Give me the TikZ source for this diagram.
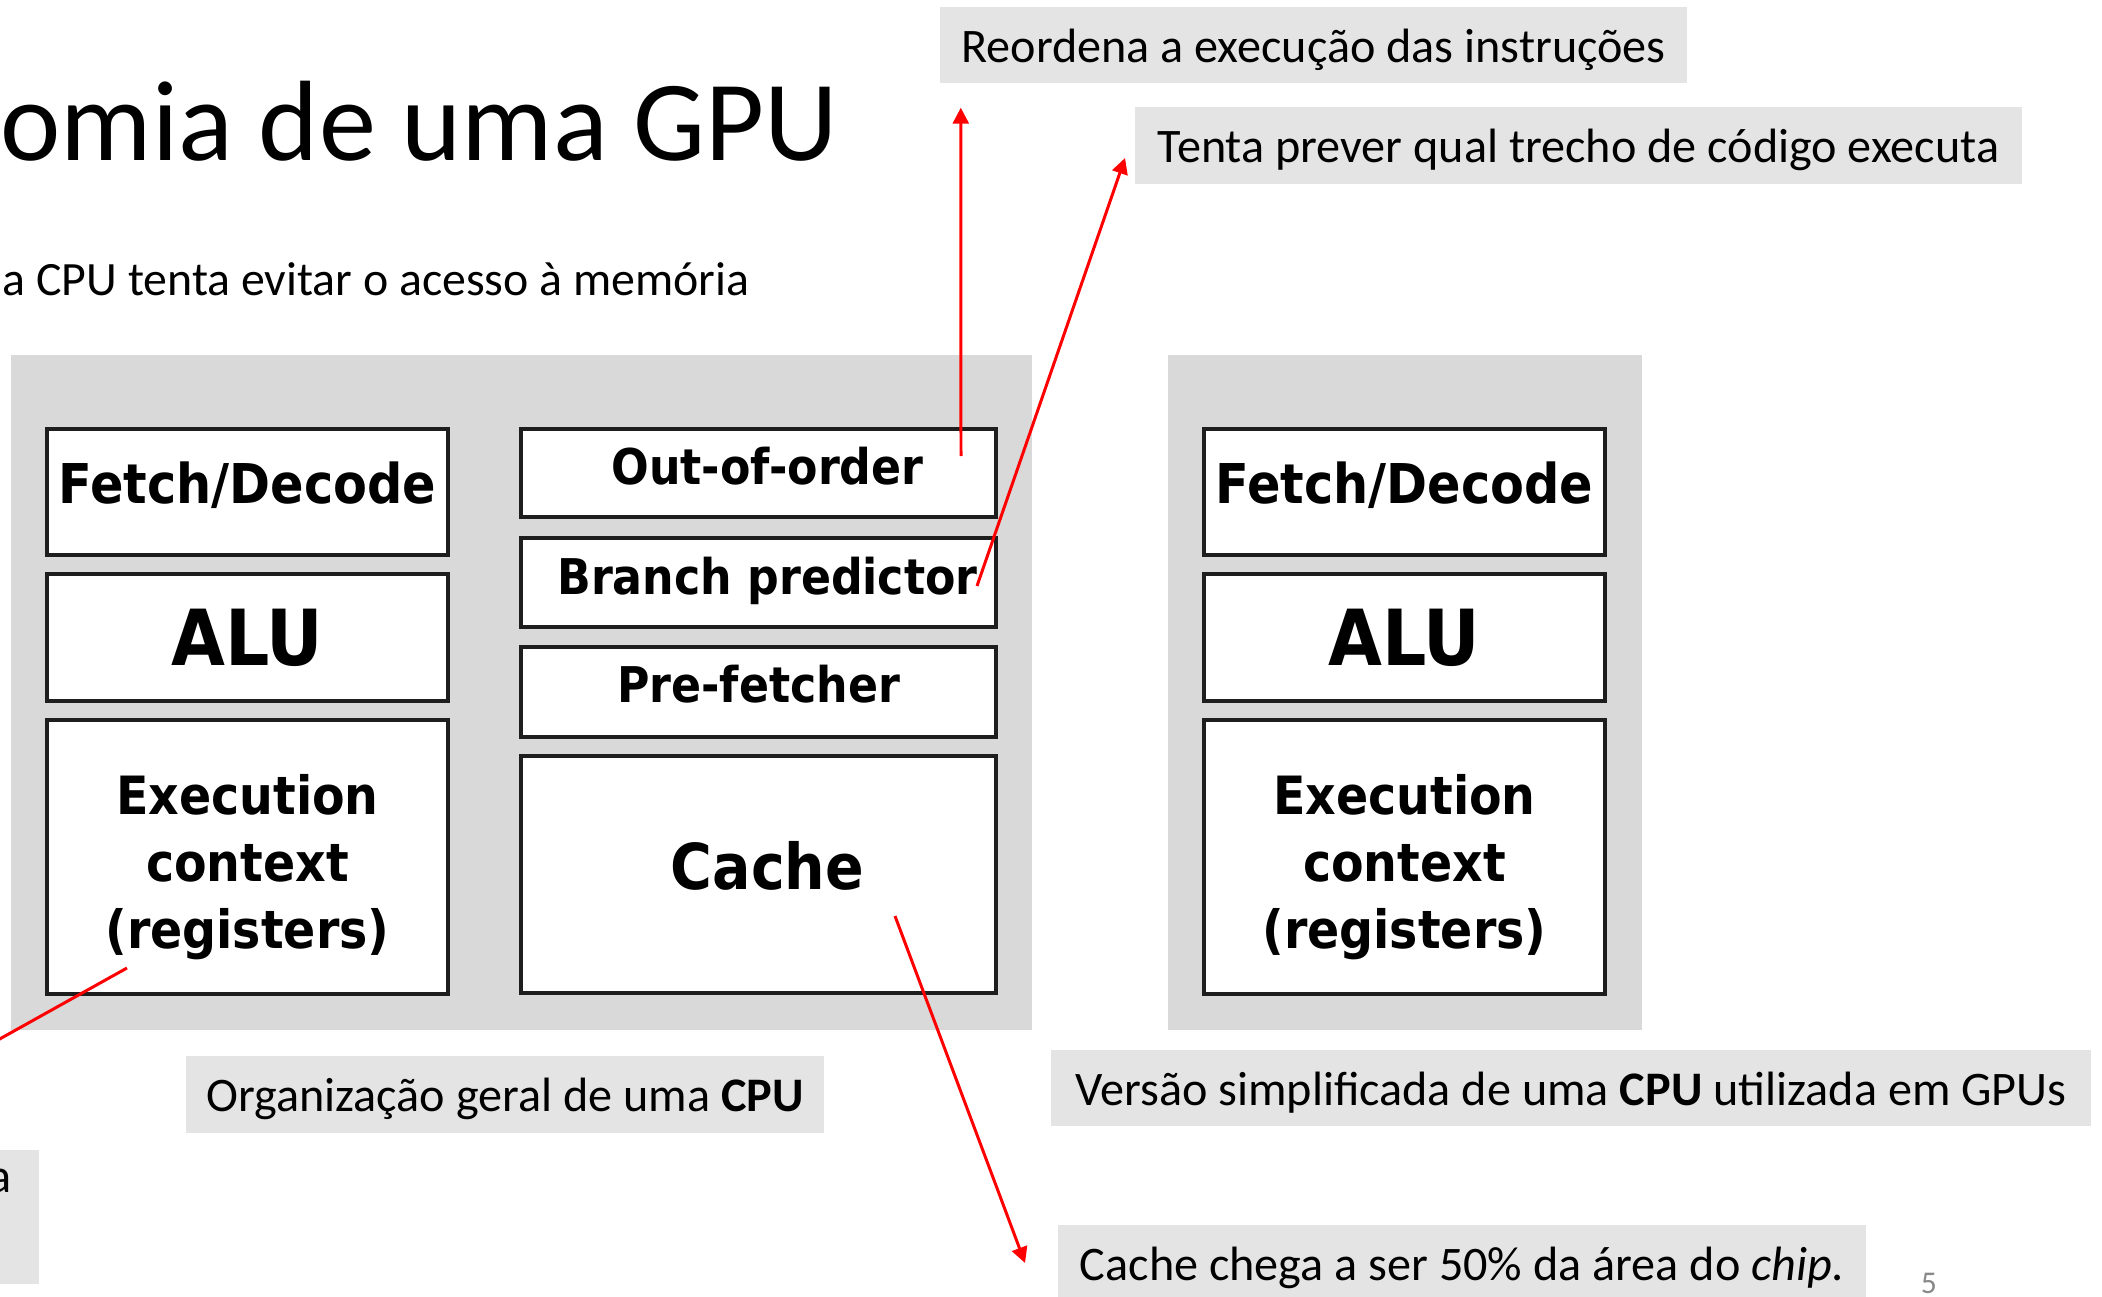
\documentclass[tikz,border=0pt]{standalone}
\usepackage{fontspec}
\setmainfont{Carlito}
\newfontfamily\chipfont{DejaVu Sans Condensed}
\usetikzlibrary{arrows.meta}
\definecolor{panel}{RGB}{217,217,217}
\definecolor{note}{RGB}{228,228,228}
\definecolor{edge}{RGB}{30,30,30}
\definecolor{pagegray}{RGB}{137,137,137}

\tikzset{
  unit/.style={draw=edge,line width=1.1pt,fill=white,align=center,inner sep=0pt},
  notebox/.style={fill=note,minimum height=0.76cm,inner sep=0pt,text height=12.5pt,text depth=2.8pt,font=\fontsize{13.7}{16}\selectfont},
  callout/.style={red,line width=0.85pt,-{Triangle[length=4.5pt,width=4.5pt]}}
}

\begin{document}
\begin{tikzpicture}[x=0.01cm,y=-0.01cm]
  \useasboundingbox (0,0) rectangle (2102,1297);

  % heading
  \node[anchor=base west,inner sep=0,font=\fontsize{32.5}{38}\selectfont] (title) at (0,161) {omia de uma GPU};
  \node[anchor=base west,inner sep=0,font=\fontsize{13.6}{16}\selectfont] (subtitle) at (2,295) {a CPU tenta evitar o acesso à memória};

  % grey dies
  \node[fill=panel,inner sep=0,minimum width=10.21cm,minimum height=6.75cm] (cpu) at (521.5,692.5) {};
  \node[fill=panel,inner sep=0,minimum width=4.74cm,minimum height=6.75cm] (gpu) at (1405,692.5) {};

  % the common core, once for the CPU and once for the GPU
  \foreach \x/\s in {247.5/a,1404.5/b}
  {
    \node[unit,minimum width=4.01cm,minimum height=1.26cm,text depth=5.5pt,font=\chipfont\bfseries\fontsize{15.6}{19}\selectfont] (fetch\s) at (\x,492) {Fetch/Decode};
    \node[unit,minimum width=4.01cm,minimum height=1.27cm,font=\chipfont\bfseries\fontsize{22}{26}\selectfont] (alu\s) at (\x,637.5) {ALU};
    \node[unit,minimum width=4.01cm,minimum height=2.73cm,text height=55pt,font=\chipfont\bfseries\fontsize{15}{19}\selectfont] (ctx\s) at (\x,857) {Execution\\context\\(registers)};
  }

  % extra CPU logic
  \node[unit,minimum width=4.75cm,minimum height=0.88cm,text depth=4pt,font=\chipfont\bfseries\fontsize{14}{17}\selectfont] (ooo) at (758.5,473) {\hspace*{0.18cm}Out-of-order};
  \node[unit,minimum width=4.75cm,minimum height=0.89cm,text depth=4pt,font=\chipfont\bfseries\fontsize{14}{17}\selectfont] (branch) at (758.5,582.5) {\hspace*{0.18cm}Branch predictor};
  \node[unit,minimum width=4.75cm,minimum height=0.90cm,text depth=4.5pt,font=\chipfont\bfseries\fontsize{14}{17}\selectfont] (prefetch) at (758.5,692) {Pre-fetcher};
  \node[unit,minimum width=4.75cm,minimum height=2.37cm,text depth=5.4pt,font=\chipfont\bfseries\fontsize{18}{22}\selectfont] (cache) at (758.5,874.5) {\hspace*{0.18cm}Cache};

  % notes
  \node[notebox,minimum width=7.47cm] (reorder) at (1313.5,45) {Reordena a execução das instruções};
  \node[notebox,minimum width=8.87cm] (predict) at (1578.5,145.5) {Tenta prever qual trecho de código executa};
  \node[notebox,minimum width=6.38cm] (general) at (505,1094.5) {Organização geral de uma \textbf{CPU}};
  \node[notebox,minimum width=10.40cm] (simple) at (1571,1088) {Versão simplificada de uma \textbf{CPU} utilizada em GPUs};
  \node[notebox,minimum width=8.08cm] (chipnote) at (1462,1263) {Cache chega a ser 50\% da área do \textit{chip}.};
  \node[fill=note,inner sep=0,minimum width=1.4cm,minimum height=1.34cm,anchor=north east] (sidenote) at (40,1149) {};
  \node[anchor=base east,inner sep=0,font=\fontsize{13.7}{16}\selectfont] (sidenote-text) at (12,1192) {a};

  \node[font=\fontsize{9}{10}\selectfont,text=pagegray] (pageno) at (1929,1283) {5};

  % red pointers
  \coordinate (ooo-pin) at (961,456);
  \coordinate (branch-pin) at (977,586);
  \coordinate (cache-pin) at (895,916);
  \coordinate (regs-pin) at (127,968);
  \coordinate (regs-tip) at (-90,1089);
  \draw[callout] (ooo-pin) -- ([xshift=-3.525cm,yshift=-0.24cm]reorder.south);
  \draw[callout] (branch-pin) -- ([xshift=-0.09cm,yshift=-0.125cm]predict.west);
  \draw[callout] (cache-pin) -- ([xshift=-0.32cm]chipnote.west);
  \draw[callout] (regs-pin) -- (regs-tip);
\end{tikzpicture}
\end{document}
